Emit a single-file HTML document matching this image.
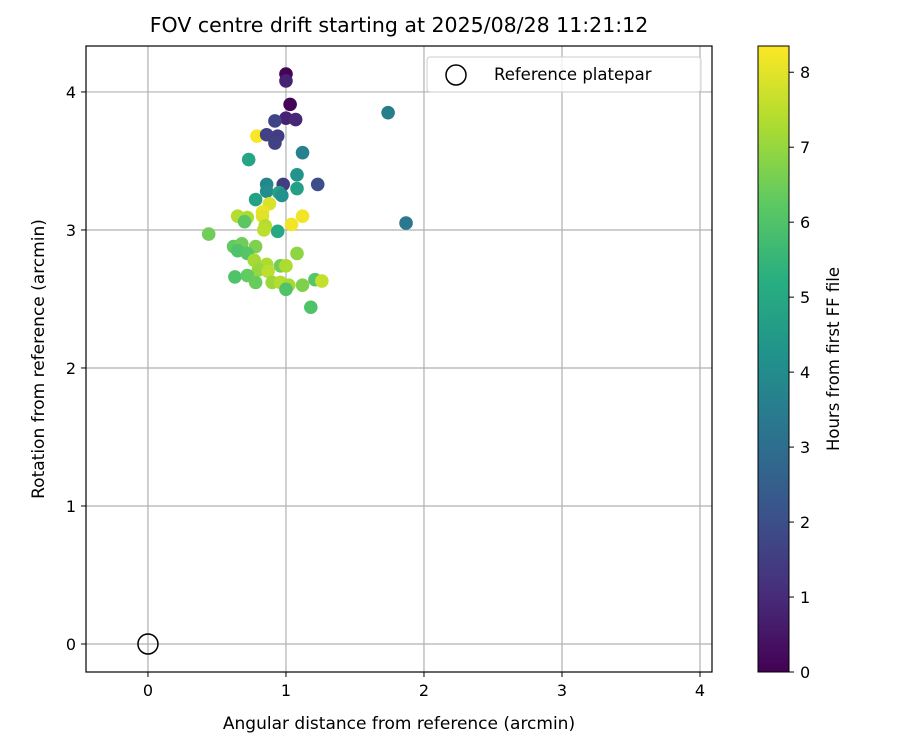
<!DOCTYPE html>
<html><head><meta charset="utf-8"><style>
body{margin:0;background:#fff;}
svg text{font-family:"DejaVu Sans","Liberation Sans",sans-serif;fill:#000;}
</style></head><body>
<svg id="chart" width="900" height="750" xmlns="http://www.w3.org/2000/svg">
<defs>
<linearGradient id="vir" x1="0" y1="1" x2="0" y2="0">
<stop offset="0" stop-color="#440154"/><stop offset="0.125" stop-color="#472d7b"/>
<stop offset="0.25" stop-color="#3b528b"/><stop offset="0.375" stop-color="#2c728e"/>
<stop offset="0.5" stop-color="#21918c"/><stop offset="0.625" stop-color="#28ae80"/>
<stop offset="0.75" stop-color="#5ec962"/><stop offset="0.875" stop-color="#addc30"/>
<stop offset="1" stop-color="#fde725"/>
</linearGradient>
</defs>
<text x="399" y="32" font-size="20.5" text-anchor="middle">FOV centre drift starting at 2025/08/28 11:21:12</text>
<g id="grid"></g>
<g id="pts"></g>
<rect x="86" y="46" width="626" height="626" fill="none" stroke="#000" stroke-width="1.2"/>
<g id="ticks"></g>
<text x="399" y="729" font-size="17" text-anchor="middle">Angular distance from reference (arcmin)</text>
<text transform="translate(44,359) rotate(-90)" font-size="17" text-anchor="middle">Rotation from reference (arcmin)</text>
<g>
<rect x="427" y="57" width="274" height="35" rx="3" fill="#fff" fill-opacity="0.8" stroke="#ccc"/>
<circle cx="456" cy="75" r="10" fill="none" stroke="#000" stroke-width="1.5"/>
<text x="494" y="80" font-size="16.5">Reference platepar</text>
</g>
<rect x="758" y="46" width="31" height="626" fill="url(#vir)" stroke="#000" stroke-width="1"/>
<g id="cbticks"></g>
<text transform="translate(839,359) rotate(-90)" font-size="16.5" text-anchor="middle">Hours from first FF file</text>
</svg>
<script>
const xTicks=[0,1,2,3,4];
const yTicks=[0,1,2,3,4];
const cbTicks=[0,1,2,3,4,5,6,7,8];
const refPoint=[0,0];
const xs=[1.0,1.0,1.03,1.0,1.07,0.92,0.79,0.86,0.94,0.92,1.74,1.12,0.73,1.08,1.08,1.23,0.98,0.86,0.86,0.95,0.97,0.78,0.88,0.83,0.83,0.65,0.72,0.70,1.12,1.04,1.87,0.85,0.44,0.84,0.94,0.62,0.68,0.65,0.78,0.72,1.08,0.77,0.86,0.96,1.0,0.80,0.87,0.63,0.72,0.78,0.90,0.96,1.02,1.0,1.12,1.21,1.26,1.18];
const ys=[4.13,4.08,3.91,3.81,3.80,3.79,3.68,3.69,3.68,3.63,3.85,3.56,3.51,3.40,3.30,3.33,3.33,3.33,3.28,3.27,3.25,3.22,3.19,3.13,3.10,3.10,3.09,3.06,3.10,3.04,3.05,3.03,2.97,3.00,2.99,2.88,2.90,2.85,2.88,2.83,2.83,2.78,2.75,2.74,2.74,2.71,2.70,2.66,2.67,2.62,2.62,2.62,2.60,2.57,2.60,2.64,2.63,2.44];
const hours=[0.1,0.8,0.1,0.8,0.9,1.7,8.3,1.6,1.5,1.6,3.5,3.6,4.9,4.3,4.7,2.0,1.5,3.8,4.0,4.8,4.2,4.8,7.9,8.1,8.0,7.4,7.3,6.2,8.2,8.2,3.3,7.4,6.5,7.5,5.0,6.3,6.5,6.0,6.7,6.1,6.9,7.2,7.3,6.5,7.3,7.0,7.5,6.0,6.3,6.4,7.1,7.4,7.2,6.0,6.7,6.1,7.6,6.0];
const X0=86,X1=712,Y0=46,Y1=672,xmin=-0.449,xmax=4.087,ymin=-0.203,ymax=4.333,hmax=8.35;
const sx=v=>X0+(v-xmin)/(xmax-xmin)*(X1-X0);
const sy=v=>Y1-(v-ymin)/(ymax-ymin)*(Y1-Y0);
const sc=h=>Y1-h/hmax*(Y1-Y0);
const V=[[68,1,84],[71,45,123],[59,82,139],[44,114,142],[33,145,140],[40,174,128],[94,201,98],[173,220,48],[253,231,37]];
function vir(t){t=Math.max(0,Math.min(1,t))*8;const i=Math.min(7,Math.floor(t)),f=t-i;const c=V[i].map((a,k)=>Math.round(a+(V[i+1][k]-a)*f));return `rgb(${c})`;}
const NS="http://www.w3.org/2000/svg";
function mk(tag,attrs,parent){const e=document.createElementNS(NS,tag);for(const k in attrs)e.setAttribute(k,attrs[k]);parent.appendChild(e);return e;}
const grid=document.getElementById('grid'),ticks=document.getElementById('ticks'),pts=document.getElementById('pts'),cbt=document.getElementById('cbticks');
xTicks.forEach(v=>{const x=sx(v);
const g=mk('line',{x1:x,x2:x,y1:Y0,y2:Y1,stroke:'#b0b0b0','stroke-width':1.2},grid);


mk('line',{x1:x,x2:x,y1:Y1,y2:Y1+5,stroke:'#000'},ticks);
const t=mk('text',{x:x,y:Y1+24,'font-size':16,'text-anchor':'middle'},ticks);t.textContent=v;

});
yTicks.forEach(v=>{const y=sy(v);
const g=mk('line',{x1:X0,x2:X1,y1:y,y2:y,stroke:'#b0b0b0','stroke-width':1.2},grid);


mk('line',{x1:X0-5,x2:X0,y1:y,y2:y,stroke:'#000'},ticks);
const t=mk('text',{x:X0-10,y:y+6,'font-size':16,'text-anchor':'end'},ticks);t.textContent=v;

});
cbTicks.forEach(v=>{const y=sc(v);
mk('line',{x1:789,x2:794,y1:y,y2:y,stroke:'#000'},cbt);
const t=mk('text',{x:800,y:y+6,'font-size':16},cbt);t.textContent=v;

});
xs.forEach((v,i)=>{const c=mk('circle',{cx:sx(v),cy:sy(ys[i]),r:6.8,fill:vir(hours[i]/hmax)},pts);

});
const r=mk('circle',{cx:sx(refPoint[0]),cy:sy(refPoint[1]),r:10,fill:'none',stroke:'#000','stroke-width':1.5},pts);


</script>
</body></html>
